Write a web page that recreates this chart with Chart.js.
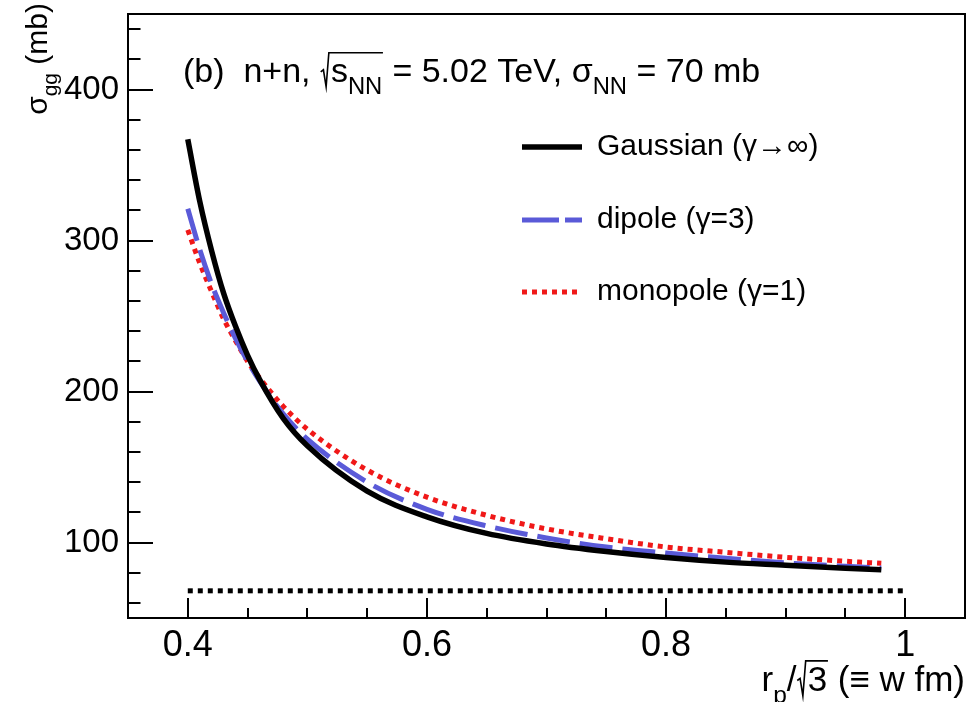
<!DOCTYPE html>
<html><head><meta charset="utf-8">
<script src="https://cdn.jsdelivr.net/npm/chart.js@4.4.0/dist/chart.umd.min.js"></script>
<style>html,body{margin:0;padding:0;background:#fff;overflow:hidden}#wrap{width:968px;height:702px;position:relative}</style>
</head><body><div id="wrap"><canvas id="c" width="968" height="702"></canvas></div>
<script>
// ---- data ----
const wValues  = [0.40,0.41,0.42,0.43,0.44,0.45,0.46,0.48,0.50,0.55,0.60,0.65,0.70,0.75,0.80,0.85,0.90,0.95,0.98];
const gaussian = [367,326,293,265,243,224,208,182,164,134,117,106,99,94,90,87,85,83,82];
const dipole   = [321,294,271,252,235,220,207,185,168.5,140,122,111,103,97,93,89.5,86.5,84.2,83.1];
const monopole = [307,285,266,248,233.5,220,209,190,175,148,130,118,109,102.5,97,93.5,90.2,87.6,86.2];
const sigmaNNx = [0.4, 1.0];
const sigmaNNy = [68, 68];
const seriesNames = ["Gaussian (γ→∞)", "dipole (γ=3)", "monopole (γ=1)"];
const xTicks = [0.4, 0.6, 0.8, 1.0];
const xTickLabels = ["0.4", "0.6", "0.8", "1"];
const yTicks = [100, 200, 300, 400];
const yTickLabels = ["100", "200", "300", "400"];

const FONT = '"Liberation Sans", Arial, sans-serif';
const BLUE = '#5a5ad8', RED = '#f01818';

function pts(xs, ys){ return xs.map((x,i)=>({x:x, y:ys[i]})); }

function fnt(sz){ return sz + 'px ' + FONT; }
function measure(ctx, parts, size){
  let w = 0;
  for (const p of parts){
    if (p.sqrt){ w += size*0.32 + measure(ctx, p.sqrt, size) + size*0.02; }
    else { const s = p.sub ? size*0.7 : size; ctx.font = fnt(s); w += ctx.measureText(p.t).width; }
  }
  return w;
}
function drawParts(ctx, x, y, parts, size){
  for (const p of parts){
    if (p.sqrt){
      const inner = measure(ctx, p.sqrt, size);
      const top = y - size*0.86, bot = y + size*0.14;
      ctx.save(); ctx.lineWidth = 1.6; ctx.strokeStyle = '#000';
      ctx.beginPath();
      ctx.moveTo(x + size*0.02, y - size*0.30);
      ctx.lineTo(x + size*0.10, y - size*0.36);
      ctx.lineTo(x + size*0.18, bot);
      ctx.lineTo(x + size*0.26, top);
      ctx.lineTo(x + size*0.32 + inner + size*0.02, top);
      ctx.stroke(); ctx.restore();
      x += size*0.32;
      x = drawParts(ctx, x, y, p.sqrt, size);
      x += size*0.02;
    } else {
      const s = p.sub ? size*0.7 : size;
      const dy = p.sub ? size*0.34 : 0;
      ctx.font = fnt(s); ctx.fillStyle = '#000'; ctx.textBaseline = 'alphabetic'; ctx.textAlign = 'left';
      ctx.fillText(p.t, x, y + dy);
      x += ctx.measureText(p.t).width;
    }
  }
  return x;
}

const decor = {
  id: 'decor',
  afterDraw(chart){
    const ctx = chart.ctx, a = chart.chartArea;
    const xs = chart.scales.x, ys = chart.scales.y;
    ctx.save();
    ctx.strokeStyle = '#000'; ctx.lineWidth = 2;
    ctx.strokeRect(a.left, a.top, a.right - a.left, a.bottom - a.top);
    ctx.lineWidth = 2; ctx.beginPath();
    for (let k = 0; k <= 12; k++){
      const v = 0.4 + k*0.05; const px = Math.round(xs.getPixelForValue(v));
      const len = (k % 4 === 0) ? 20 : 10;
      ctx.moveTo(px, a.bottom); ctx.lineTo(px, a.bottom - len);
    }
    for (let v = 60; v <= 440; v += 20){
      const py = Math.round(ys.getPixelForValue(v));
      const len = (v % 100 === 0) ? 25 : 12.5;
      ctx.moveTo(a.left, py); ctx.lineTo(a.left + len, py);
    }
    ctx.stroke();

    // title
    drawParts(ctx, 183, 82, [
      {t:'(b)  n+n, '}, {sqrt:[{t:'s'},{t:'NN',sub:true}]}, {t:' = 5.02 TeV, σ'}, {t:'NN',sub:true}, {t:' = 70 mb'}
    ], 34);

    // legend
    const lx0 = 522, lx1 = 582, tx = 597;
    const rows = [
      {y:147, color:'#000', dash:[], w:5.5},
      {y:220, color:BLUE, dash:[37,6], w:5},
      {y:292, color:RED, dash:[5,5], w:5}
    ];
    rows.forEach((r, i) => {
      ctx.save(); ctx.strokeStyle = r.color; ctx.lineWidth = r.w; ctx.setLineDash(r.dash); ctx.lineCap = 'butt';
      ctx.beginPath(); ctx.moveTo(lx0, r.y); ctx.lineTo(lx1, r.y); ctx.stroke(); ctx.restore();
      ctx.font = fnt(30); ctx.fillStyle = '#000'; ctx.textBaseline = 'middle'; ctx.textAlign = 'left';
      ctx.fillText(seriesNames[i], tx, r.y);
    });

    // x axis title
    const xParts = [{t:'r'},{t:'p',sub:true},{t:'/'},{sqrt:[{t:'3'}]},{t:' (≡ w fm)'}];
    const xw = measure(ctx, xParts, 35);
    drawParts(ctx, 965 - xw, 691, xParts, 35);

    // y axis title
    const yParts = [{t:'σ'},{t:'gg',sub:true},{t:' (mb)'}];
    const yw = measure(ctx, yParts, 30);
    ctx.save(); ctx.translate(47, 3); ctx.rotate(-Math.PI/2);
    drawParts(ctx, -yw, 0, yParts, 30);
    ctx.restore();
    ctx.restore();
  }
};

new Chart(document.getElementById('c'), {
  type: 'line',
  data: {
    datasets: [
      {label: seriesNames[0], data: pts(wValues, gaussian), borderColor:'#000', borderWidth:5.5, pointRadius:0, cubicInterpolationMode:'monotone', fill:false},
      {label: seriesNames[1], data: pts(wValues, dipole), borderColor:BLUE, borderWidth:5, borderDash:[33,10], pointRadius:0, cubicInterpolationMode:'monotone', fill:false},
      {label: seriesNames[2], data: pts(wValues, monopole), borderColor:RED, borderWidth:5, borderDash:[5,5], pointRadius:0, cubicInterpolationMode:'monotone', fill:false},
      {label: 'σNN', data: pts(sigmaNNx, sigmaNNy), borderColor:'#000', borderWidth:5, borderDash:[5,5], pointRadius:0, fill:false}
    ]
  },
  options: {
    responsive: false, animation: false, devicePixelRatio: 1,
    layout: {padding: {left:0, right:3, top:14, bottom:0}},
    plugins: {legend:{display:false}, tooltip:{enabled:false}, title:{display:false}},
    scales: {
      x: {
        type: 'linear', min: 0.35, max: 1.05,
        grid: {display:false, drawTicks:false}, border: {display:false},
        afterBuildTicks: s => { s.ticks = xTicks.map(v => ({value:v})); },
        afterFit: s => { s.height = 84; s.paddingLeft = 0; s.paddingRight = 0; },
        ticks: {color:'#000', font:{family:FONT, size:36}, padding:6, maxRotation:0, autoSkip:false,
                callback: (v, i) => xTickLabels[i]}
      },
      y: {
        type: 'linear', min: 50, max: 450,
        grid: {display:false, drawTicks:false}, border: {display:false},
        afterBuildTicks: s => { s.ticks = yTicks.map(v => ({value:v})); },
        afterFit: s => { s.width = 128; s.paddingTop = 0; s.paddingBottom = 0; },
        ticks: {color:'#000', font:{family:FONT, size:33}, padding:9, autoSkip:false,
                callback: (v, i) => yTickLabels[i]}
      }
    }
  },
  plugins: [decor]
});
</script></body></html>
